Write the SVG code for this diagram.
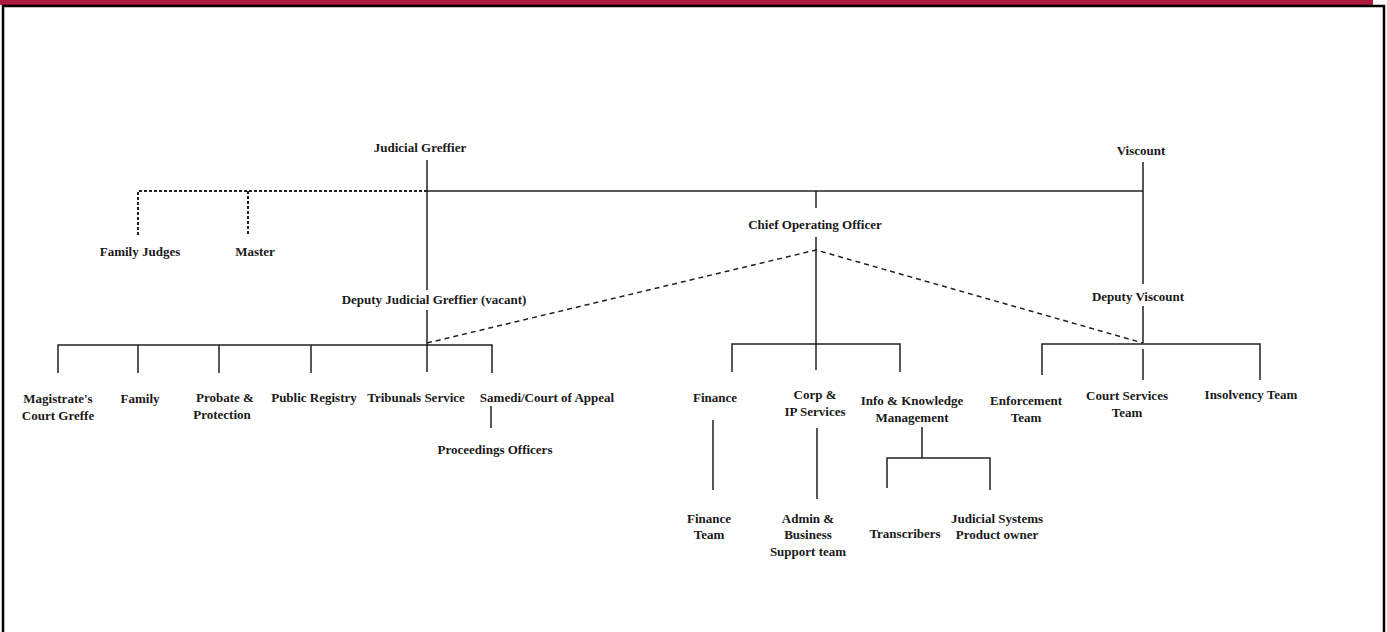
<svg xmlns="http://www.w3.org/2000/svg" width="1387" height="632" viewBox="0 0 1387 632">
<style>
.t{font-family:"Liberation Serif","Times New Roman",serif;font-weight:bold;font-size:13px;fill:#1a1a1a;text-anchor:middle}
.l{stroke:#222;stroke-width:1.5;fill:none}
.d{stroke:#222;stroke-width:2;fill:none;stroke-dasharray:3 2}
.ds{stroke:#222;stroke-width:1.5;fill:none;stroke-dasharray:5 4}
</style>
<rect x="0" y="0" width="1387" height="632" fill="#fff"/>
<rect x="0" y="0" width="1373" height="5" fill="#ad1a3c"/>
<path d="M3,632 V6 H1384 V632" stroke="#000" stroke-width="2.5" fill="none"/>
<g id="connectors">
<path class="d" d="M138,235 V191 H427 M248,191 V235"/>
<path class="l" d="M427,191 H1143"/>
<path class="l" d="M427,160 V290 M427,310 V372"/>
<path class="l" d="M816,191 V208 M816,237 V370"/>
<path class="l" d="M1143,162 V284 M1143,306 V343 M1143,349 V380"/>
<path class="ds" d="M427,343 L816,250 L1143,343"/>
<path class="l" d="M58,373 V345 H492 V373 M138,345 V373 M219,345 V373 M311,345 V373"/>
<path class="l" d="M491,406 V428"/>
<path class="l" d="M732,372 V344 H900 V372"/>
<path class="l" d="M713,420 V490 M817,428 V499"/>
<path class="l" d="M922,427 V458 M887,488 V458 H990 V490"/>
<path class="l" d="M1042,375 V344 H1260 V380"/>
</g>
<g id="judicial-greffier"><text class="t" x="420" y="152">Judicial Greffier</text></g>
<g id="viscount"><text class="t" x="1141" y="155">Viscount</text></g>
<g id="family-judges"><text class="t" x="140" y="256">Family Judges</text></g>
<g id="master"><text class="t" x="255" y="256">Master</text></g>
<g id="coo"><text class="t" x="815" y="229">Chief Operating Officer</text></g>
<g id="deputy-judicial-greffier"><text class="t" x="434" y="304">Deputy Judicial Greffier (vacant)</text></g>
<g id="deputy-viscount"><text class="t" x="1138" y="301">Deputy Viscount</text></g>
<g id="magistrates"><text class="t" x="58" y="403">Magistrate's</text><text class="t" x="58" y="420">Court Greffe</text></g>
<g id="family"><text class="t" x="140" y="403">Family</text></g>
<g id="probate"><text class="t" x="225" y="402">Probate &amp;</text><text class="t" x="222" y="419">Protection</text></g>
<g id="public-registry"><text class="t" x="314" y="402">Public Registry</text></g>
<g id="tribunals"><text class="t" x="416" y="402">Tribunals Service</text></g>
<g id="samedi"><text class="t" x="547" y="402">Samedi/Court of Appeal</text></g>
<g id="proceedings"><text class="t" x="495" y="454">Proceedings Officers</text></g>
<g id="finance"><text class="t" x="715" y="402">Finance</text></g>
<g id="corp"><text class="t" x="815" y="399">Corp &amp;</text><text class="t" x="815" y="416">IP Services</text></g>
<g id="info"><text class="t" x="912" y="405">Info &amp; Knowledge</text><text class="t" x="912" y="422">Management</text></g>
<g id="finance-team"><text class="t" x="709" y="523">Finance</text><text class="t" x="709" y="539">Team</text></g>
<g id="admin"><text class="t" x="808" y="523">Admin &amp;</text><text class="t" x="808" y="539">Business</text><text class="t" x="808" y="556">Support team</text></g>
<g id="transcribers"><text class="t" x="905" y="538">Transcribers</text></g>
<g id="judicial-systems"><text class="t" x="997" y="523">Judicial Systems</text><text class="t" x="997" y="539">Product owner</text></g>
<g id="enforcement"><text class="t" x="1026" y="405">Enforcement</text><text class="t" x="1026" y="422">Team</text></g>
<g id="court-services"><text class="t" x="1127" y="400">Court Services</text><text class="t" x="1127" y="417">Team</text></g>
<g id="insolvency"><text class="t" x="1251" y="399">Insolvency Team</text></g>
</svg>
